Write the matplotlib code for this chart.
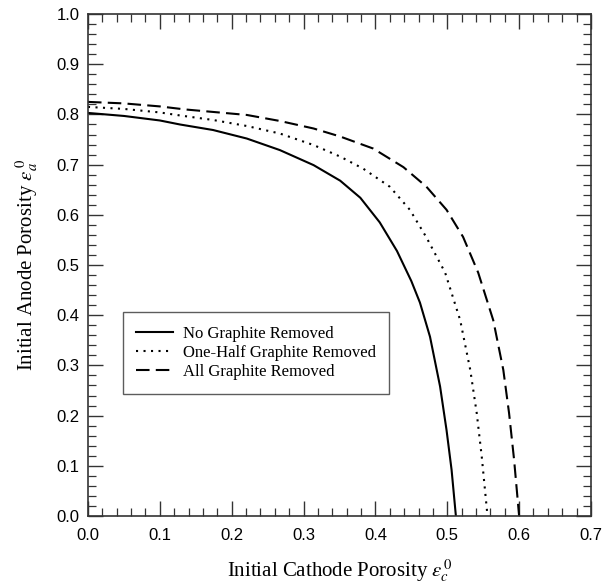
import matplotlib
matplotlib.use("Agg")
import matplotlib.pyplot as plt
from matplotlib.ticker import MultipleLocator

plt.rcParams['mathtext.fontset'] = 'stix'

# Data
no_x = [0.0, 0.05, 0.10, 0.128, 0.174, 0.221, 0.267, 0.314, 0.351, 0.379, 0.406, 0.430,
        0.450, 0.462, 0.476, 0.490, 0.499, 0.506, 0.512]
no_y = [0.803, 0.797, 0.788, 0.780, 0.769, 0.752, 0.729, 0.699, 0.668, 0.634, 0.585, 0.528,
        0.468, 0.425, 0.357, 0.258, 0.171, 0.092, 0.0]

half_x = [0.0, 0.05, 0.10, 0.128, 0.174, 0.221, 0.267, 0.314, 0.351, 0.383, 0.420, 0.448,
          0.471, 0.497, 0.518, 0.532, 0.541, 0.548, 0.556]
half_y = [0.815, 0.811, 0.804, 0.798, 0.789, 0.777, 0.762, 0.739, 0.716, 0.692, 0.656, 0.610,
          0.555, 0.485, 0.390, 0.291, 0.205, 0.118, 0.0]

all_x = [0.0, 0.05, 0.10, 0.135, 0.174, 0.221, 0.267, 0.314, 0.351, 0.397, 0.439, 0.471,
         0.499, 0.522, 0.543, 0.564, 0.578, 0.586, 0.593, 0.600]
all_y = [0.825, 0.822, 0.816, 0.810, 0.805, 0.799, 0.787, 0.772, 0.756, 0.732, 0.695, 0.656,
         0.610, 0.556, 0.485, 0.390, 0.291, 0.205, 0.112, 0.0]

labels = ["No Graphite Removed", "One-Half Graphite Removed", "All Graphite Removed"]

fig = plt.figure(figsize=(6.14, 5.86), dpi=100)
ax = fig.add_axes([0.1433, 0.1195, 0.8192, 0.8565])

lw = 1.5
ax.plot(no_x, no_y, color='black', lw=lw, linestyle='-', label=labels[0])
ax.plot(half_x, half_y, color='black', lw=lw, linestyle=(0, (1, 2.6)), label=labels[1])
ax.plot(all_x, all_y, color='black', lw=lw, linestyle=(0, (6.5, 3)), label=labels[2])

ax.set_xlim(0, 0.7)
ax.set_ylim(0, 1.0)
ax.xaxis.set_major_locator(MultipleLocator(0.1))
ax.xaxis.set_minor_locator(MultipleLocator(0.02))
ax.yaxis.set_major_locator(MultipleLocator(0.1))
ax.yaxis.set_minor_locator(MultipleLocator(0.02))
ax.xaxis.set_major_formatter(plt.FuncFormatter(lambda v, p: f"{v:.1f}"))
ax.yaxis.set_major_formatter(plt.FuncFormatter(lambda v, p: f"{v:.1f}"))

ax.tick_params(which='both', direction='in', top=True, right=True, color='#333333')
ax.tick_params(which='major', length=11, width=1.0)
ax.tick_params(which='minor', length=5.5, width=0.9)
ax.tick_params(axis='x', which='major', pad=9)
ax.tick_params(axis='y', which='major', pad=6)
for lab in ax.get_xticklabels() + ax.get_yticklabels():
    lab.set_fontfamily('Liberation Sans')
    lab.set_fontsize(12)
for s in ax.spines.values():
    s.set_linewidth(1.2)
    s.set_color('#333333')

ax.set_xlabel(r"Initial Cathode Porosity $\varepsilon_c^{\,0}$", fontfamily='Liberation Serif', fontsize=15, labelpad=10)
ax.set_ylabel(r"Initial Anode Porosity $\varepsilon_a^{\,0}$", fontfamily='Liberation Serif', fontsize=15, labelpad=12)

leg = ax.legend(loc='upper left', bbox_to_anchor=(0.069, 0.406), borderaxespad=0, frameon=True, fancybox=False,
                edgecolor='#333333', prop={'family': 'Liberation Serif', 'size': 12},
                handlelength=2.2, handletextpad=0.6, borderpad=0.8, labelspacing=0.2)
leg.get_frame().set_linewidth(1.0)

fig.savefig("out.png", dpi=100)
